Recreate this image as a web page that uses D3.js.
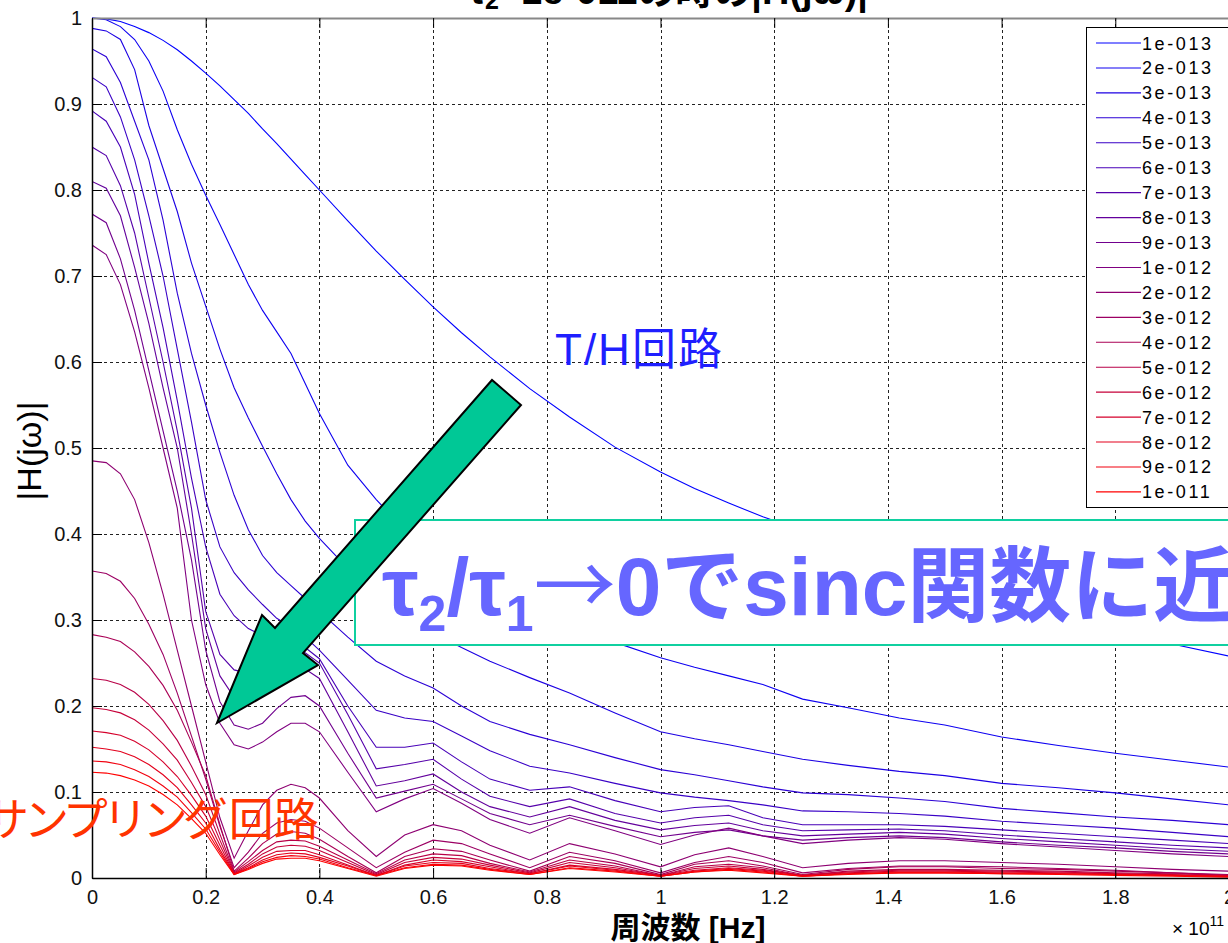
<!DOCTYPE html>
<html><head><meta charset="utf-8">
<script src="https://cdn.jsdelivr.net/npm/d3@7"></script>
<style>
body{margin:0;background:#fff;}
svg{display:block;font-family:"Liberation Sans",Arial,"Noto Sans CJK JP",sans-serif;}
</style>
</head><body>
<svg id="c" width="1228" height="943"></svg>
<script>
// frequency axis (x 1e11 Hz)
const freq = [0,0.025,0.05,0.075,0.1,0.125,0.15,0.175,0.2,0.225,0.25,0.275,0.3,0.325,0.35,0.375,0.4,0.45,0.5,0.55,0.6,0.65,0.7,0.77,0.84,0.92,1.0,1.06,1.12,1.18,1.25,1.33,1.42,1.5,1.6,1.7,1.8,1.9,2.0];
const legendLabels = ["1e-013","2e-013","3e-013","4e-013","5e-013","6e-013","7e-013","8e-013","9e-013","1e-012","2e-012","3e-012","4e-012","5e-012","6e-012","7e-012","8e-012","9e-012","1e-011"];
const xTickValues = [0,0.2,0.4,0.6,0.8,1,1.2,1.4,1.6,1.8,2];
const xTickLabels = ["0","0.2","0.4","0.6","0.8","1","1.2","1.4","1.6","1.8","2"];
const yTickValues = [0,0.1,0.2,0.3,0.4,0.5,0.6,0.7,0.8,0.9,1];
const yTickLabels = ["0","0.1","0.2","0.3","0.4","0.5","0.6","0.7","0.8","0.9","1"];

const h01 = [1.000,0.999,0.996,0.990,0.983,0.974,0.963,0.950,0.936,0.921,0.905,0.889,0.871,0.854,0.836,0.818,0.800,0.764,0.729,0.696,0.664,0.634,0.606,0.569,0.536,0.501,0.472,0.453,0.436,0.420,0.404,0.384,0.362,0.344,0.324,0.305,0.288,0.272,0.258];
const h02 = [1.000,0.998,0.990,0.975,0.950,0.915,0.870,0.830,0.794,0.760,0.725,0.690,0.660,0.635,0.610,0.575,0.540,0.480,0.440,0.405,0.380,0.355,0.335,0.310,0.290,0.274,0.256,0.245,0.235,0.225,0.208,0.198,0.186,0.178,0.164,0.154,0.145,0.137,0.129];
const h03 = [0.988,0.985,0.975,0.940,0.875,0.825,0.775,0.715,0.665,0.615,0.570,0.535,0.502,0.470,0.440,0.415,0.395,0.360,0.330,0.305,0.285,0.268,0.252,0.233,0.215,0.192,0.170,0.162,0.155,0.147,0.138,0.131,0.124,0.119,0.110,0.105,0.099,0.092,0.085];
const h04 = [0.964,0.955,0.925,0.880,0.835,0.765,0.680,0.610,0.550,0.495,0.445,0.405,0.375,0.355,0.340,0.325,0.310,0.280,0.252,0.235,0.221,0.200,0.182,0.167,0.155,0.140,0.126,0.120,0.113,0.106,0.099,0.097,0.093,0.089,0.081,0.076,0.071,0.067,0.062];
const h05 = [0.931,0.920,0.885,0.835,0.770,0.700,0.615,0.530,0.440,0.385,0.355,0.335,0.318,0.302,0.292,0.280,0.265,0.230,0.195,0.186,0.182,0.165,0.148,0.130,0.122,0.110,0.099,0.094,0.090,0.085,0.078,0.077,0.075,0.072,0.066,0.062,0.058,0.053,0.048];
const h06 = [0.892,0.880,0.850,0.795,0.715,0.640,0.555,0.465,0.385,0.330,0.305,0.290,0.282,0.278,0.275,0.268,0.255,0.200,0.152,0.152,0.157,0.135,0.115,0.102,0.106,0.090,0.077,0.082,0.084,0.070,0.062,0.062,0.062,0.060,0.056,0.052,0.048,0.044,0.040];
const h07 = [0.850,0.840,0.805,0.750,0.675,0.600,0.520,0.430,0.310,0.260,0.242,0.238,0.245,0.258,0.265,0.262,0.250,0.190,0.127,0.132,0.138,0.115,0.095,0.083,0.092,0.075,0.064,0.070,0.073,0.062,0.055,0.056,0.057,0.055,0.050,0.046,0.042,0.038,0.035];
const h08 = [0.810,0.802,0.770,0.710,0.645,0.570,0.500,0.400,0.290,0.235,0.210,0.205,0.212,0.228,0.242,0.243,0.232,0.170,0.107,0.113,0.121,0.100,0.083,0.071,0.083,0.067,0.056,0.061,0.064,0.055,0.049,0.051,0.053,0.051,0.046,0.042,0.038,0.034,0.031];
const h09 = [0.772,0.762,0.720,0.660,0.590,0.520,0.450,0.370,0.265,0.205,0.178,0.173,0.180,0.197,0.210,0.212,0.200,0.145,0.093,0.101,0.109,0.092,0.075,0.062,0.073,0.060,0.048,0.053,0.056,0.049,0.044,0.047,0.049,0.047,0.042,0.038,0.035,0.031,0.028];
const h10 = [0.736,0.725,0.690,0.635,0.570,0.500,0.430,0.300,0.225,0.180,0.155,0.150,0.158,0.170,0.180,0.180,0.170,0.123,0.077,0.092,0.104,0.087,0.068,0.052,0.070,0.055,0.039,0.050,0.058,0.049,0.040,0.044,0.047,0.045,0.040,0.036,0.032,0.028,0.025];
const h11 = [0.485,0.483,0.470,0.440,0.390,0.330,0.265,0.200,0.135,0.070,0.023,0.055,0.085,0.102,0.109,0.105,0.093,0.055,0.025,0.050,0.062,0.055,0.038,0.021,0.040,0.028,0.013,0.027,0.035,0.025,0.012,0.017,0.020,0.020,0.018,0.016,0.013,0.010,0.008];
const h12 = [0.357,0.354,0.345,0.325,0.295,0.260,0.215,0.165,0.115,0.060,0.012,0.030,0.052,0.064,0.068,0.066,0.058,0.035,0.012,0.030,0.044,0.040,0.028,0.012,0.030,0.020,0.006,0.018,0.025,0.018,0.006,0.011,0.014,0.014,0.013,0.011,0.009,0.006,0.004];
const h13 = [0.283,0.280,0.275,0.263,0.246,0.224,0.195,0.158,0.119,0.062,0.008,0.023,0.040,0.051,0.054,0.052,0.045,0.025,0.006,0.025,0.034,0.031,0.021,0.008,0.025,0.017,0.004,0.016,0.020,0.014,0.004,0.010,0.013,0.013,0.011,0.010,0.008,0.006,0.003];
const h14 = [0.232,0.230,0.225,0.216,0.202,0.183,0.160,0.130,0.097,0.051,0.007,0.019,0.032,0.042,0.044,0.043,0.037,0.021,0.005,0.021,0.028,0.026,0.017,0.007,0.021,0.014,0.003,0.013,0.016,0.012,0.003,0.008,0.010,0.010,0.009,0.008,0.006,0.005,0.003];
const h15 = [0.198,0.196,0.192,0.184,0.172,0.156,0.137,0.111,0.083,0.044,0.006,0.016,0.028,0.036,0.038,0.037,0.032,0.018,0.004,0.018,0.024,0.022,0.015,0.006,0.018,0.012,0.003,0.011,0.014,0.010,0.003,0.007,0.009,0.009,0.008,0.007,0.005,0.004,0.002];
const h16 = [0.171,0.169,0.166,0.159,0.149,0.135,0.118,0.096,0.072,0.038,0.005,0.014,0.024,0.031,0.032,0.032,0.027,0.015,0.003,0.015,0.021,0.019,0.013,0.005,0.015,0.010,0.003,0.009,0.012,0.009,0.003,0.006,0.008,0.008,0.007,0.006,0.005,0.003,0.002];
const h17 = [0.152,0.150,0.147,0.141,0.132,0.120,0.105,0.085,0.064,0.033,0.005,0.012,0.021,0.027,0.029,0.028,0.024,0.014,0.003,0.014,0.018,0.017,0.011,0.005,0.014,0.009,0.002,0.008,0.011,0.008,0.002,0.005,0.007,0.007,0.006,0.005,0.004,0.003,0.002];
const h18 = [0.136,0.135,0.132,0.126,0.118,0.107,0.094,0.076,0.057,0.030,0.004,0.011,0.019,0.024,0.026,0.025,0.022,0.012,0.003,0.012,0.016,0.015,0.010,0.004,0.012,0.008,0.002,0.007,0.010,0.007,0.002,0.005,0.006,0.006,0.005,0.005,0.004,0.003,0.002];
const h19 = [0.123,0.122,0.119,0.114,0.107,0.097,0.085,0.069,0.052,0.027,0.004,0.010,0.017,0.022,0.023,0.023,0.020,0.011,0.002,0.011,0.015,0.014,0.009,0.004,0.011,0.007,0.002,0.007,0.009,0.006,0.002,0.004,0.006,0.006,0.005,0.004,0.003,0.002,0.001];
const seriesValues = [h01,h02,h03,h04,h05,h06,h07,h08,h09,h10,h11,h12,h13,h14,h15,h16,h17,h18,h19];

const svg = d3.select("#c");
const L = 92, R = 1229, T = 18, B = 878;
const x = d3.scaleLinear().domain([0,2]).range([L,R]);
const y = d3.scaleLinear().domain([0,1]).range([B,T]);
const colorOf = i => d3.interpolateRgb("#0000ff","#ff0000")(i/(seriesValues.length-1));

svg.append("rect").attr("x",0).attr("y",0).attr("width",1228).attr("height",943).attr("fill","#fff");
svg.append("defs").append("clipPath").attr("id","plotclip").append("rect")
  .attr("x",L).attr("y",T-1).attr("width",R-L).attr("height",B-T+2);

// grid
const grid = svg.append("g").attr("stroke","#222").attr("stroke-width",1).attr("stroke-dasharray","3,3");
grid.selectAll("line.v").data(xTickValues.slice(1)).enter().append("line")
  .attr("x1",d=>Math.round(x(d))+0.5).attr("x2",d=>Math.round(x(d))+0.5).attr("y1",T).attr("y2",B);
grid.selectAll("line.h").data(yTickValues.slice(1)).enter().append("line")
  .attr("x1",L).attr("x2",R).attr("y1",d=>Math.round(y(d))+0.5).attr("y2",d=>Math.round(y(d))+0.5);
grid.append("line").attr("x1",L+0.5).attr("x2",L+0.5).attr("y1",T).attr("y2",B);

// curves
const line = d3.line().x((d,i)=>x(freq[i])).y(d=>y(d));
svg.append("g").attr("clip-path","url(#plotclip)").selectAll("path").data(seriesValues).enter().append("path")
  .attr("d",line).attr("fill","none").attr("stroke",(d,i)=>colorOf(i)).attr("stroke-width",1.1);

// axes
const xAxis = d3.axisBottom(x).tickValues(xTickValues).tickFormat((d,i)=>xTickLabels[i]).tickSizeInner(-10).tickSizeOuter(0).tickPadding(12);
const gx = svg.append("g").attr("transform",`translate(0,${B})`).call(xAxis);
const yAxis = d3.axisLeft(y).tickValues(yTickValues).tickFormat((d,i)=>yTickLabels[i]).tickSizeInner(-10).tickSizeOuter(0).tickPadding(10);
const gy = svg.append("g").attr("transform",`translate(${L},0)`).call(yAxis);
const xTop = d3.axisTop(x).tickValues(xTickValues).tickFormat("").tickSizeInner(-10).tickSizeOuter(0);
const gt = svg.append("g").attr("transform",`translate(0,${T})`).call(xTop);
[gx,gy,gt].forEach(g=>{
  g.selectAll("text").attr("font-size",20).attr("fill","#111").attr("font-family","Liberation Sans, Arial, sans-serif");
  g.selectAll(".tick line").attr("stroke","#000");
});
gx.select(".domain").attr("stroke","#000").attr("stroke-width",1.5);
gy.select(".domain").attr("stroke","#000").attr("stroke-width",1.5);
gt.select(".domain").attr("stroke","#888").attr("stroke-width",2);

// legend
const lg = svg.append("g");
lg.append("rect").attr("x",1086.5).attr("y",27.5).attr("width",160).attr("height",480).attr("fill","#fff").attr("stroke","#000");
const items = lg.selectAll("g.it").data(legendLabels).enter().append("g")
  .attr("transform",(d,i)=>`translate(0,${43 + i*24.94})`);
items.append("line").attr("x1",1096).attr("x2",1141).attr("y1",0).attr("y2",0).attr("stroke",(d,i)=>colorOf(i)).attr("stroke-width",1.1);
items.append("text").attr("x",1142).attr("y",6.5).attr("font-size",18).attr("letter-spacing","2.6px").attr("fill","#000").text(d=>d);

// annotations
svg.append("text").attr("x",555).attr("y",365).attr("font-size",44).attr("letter-spacing","2px").attr("fill","#1f1fff")
  .attr("font-family","Liberation Sans, Noto Sans CJK JP, sans-serif").text("T/H回路");

const tb = svg.append("g");
tb.append("rect").attr("x",355).attr("y",520).attr("width",900).attr("height",125).attr("fill","#fff").attr("stroke","#10d0a0").attr("stroke-width",2);
const tt = tb.append("text").attr("x",382).attr("y",615).attr("font-size",82).attr("font-weight","bold").attr("fill","#6666ff")
  .attr("font-family","Liberation Sans, Noto Sans CJK JP, sans-serif");
tt.append("tspan").text("τ");
tt.append("tspan").attr("font-size",50).attr("dy",16).text("2");
tt.append("tspan").attr("dy",-16).text("/τ");
tt.append("tspan").attr("font-size",50).attr("dy",16).text("1");
tt.append("tspan").attr("dy",-16).attr("font-family","Noto Sans CJK JP, sans-serif").attr("font-weight","normal").text("→");
tt.append("tspan").text("0でsinc関数に近づく");

// arrow
const arrowPts = [[217,723],[262,615],[275,628],[492,380],[521,405],[303,653],[318,665]];
svg.append("polygon").attr("points",arrowPts.map(p=>p.join(",")).join(" "))
  .attr("fill","#00c896").attr("stroke","#000").attr("stroke-width",2).attr("stroke-linejoin","miter");

const st = svg.append("text").attr("x",-16).attr("y",836).attr("font-size",45).attr("fill","#ff3300")
  .attr("font-family","Noto Sans CJK JP, sans-serif");
st.append("tspan").attr("letter-spacing","-5px").text("サンプリング");
st.append("tspan").attr("dx",6).text("回路");

// title (mostly cut off at top)
const title = svg.append("text").attr("x",668).attr("y",4).attr("text-anchor","middle").attr("font-size",38).attr("font-weight","bold").attr("fill","#000")
  .attr("font-family","Liberation Sans, Noto Sans CJK JP, sans-serif");
title.append("tspan").text("τ");
title.append("tspan").attr("font-size",25).attr("dy",5).text("2");
title.append("tspan").attr("dy",-5).text("=1e-011の時の|H(jω)|");

// axis labels
svg.append("text").attr("x",688).attr("y",938).attr("text-anchor","middle").attr("font-size",30).attr("font-weight","bold")
  .attr("font-family","Liberation Sans, Noto Sans CJK JP, sans-serif").text("周波数 [Hz]");
svg.append("text").attr("transform","translate(41,451) rotate(-90)").attr("text-anchor","middle").attr("font-size",34).attr("fill","#000")
  .text("|H(jω)|");
const ex = svg.append("text").attr("x",1172).attr("y",935).attr("font-size",19).attr("fill","#000");
ex.append("tspan").text("× 10");
ex.append("tspan").attr("font-size",14).attr("dy",-9).text("11");
</script>
</body></html>
